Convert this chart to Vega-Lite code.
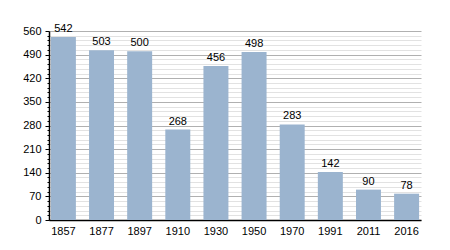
{
  "$schema": "https://vega.github.io/schema/vega-lite/v6.json",
  "autosize": {"type": "none"},
  "padding": {"left": 49, "top": 31, "right": 29, "bottom": 30},
  "width": 372,
  "height": 189,
  "background": "white",
  "config": {
    "view": {"stroke": null},
    "font": "Liberation Sans",
    "axis": {"labelFont": "Liberation Sans", "labelFontSize": 11, "labelColor": "#000", "domainColor": "#000", "tickColor": "#000", "title": null}
  },
  "data": {"values": [
    {"year": "1857", "pop": 542},
    {"year": "1877", "pop": 503},
    {"year": "1897", "pop": 500},
    {"year": "1910", "pop": 268},
    {"year": "1930", "pop": 456},
    {"year": "1950", "pop": 498},
    {"year": "1970", "pop": 283},
    {"year": "1991", "pop": 142},
    {"year": "2011", "pop": 90},
    {"year": "2016", "pop": 78}
  ]},
  "encoding": {
    "x": {"field": "year", "type": "ordinal", "sort": null,
      "scale": {"paddingInner": 0.345, "paddingOuter": 0.05},
      "axis": {"labelAngle": 0, "ticks": false, "labelPadding": 5, "domainWidth": 1.5}}
  },
  "layer": [
    {
      "mark": {"type": "bar", "opacity": 0},
      "encoding": {
        "y": {"field": "pop", "type": "quantitative",
          "scale": {"domain": [0, 560], "nice": false},
          "axis": {"orient": "left", "values": [0,14,28,42,56,84,98,112,126,154,168,182,196,224,238,252,266,294,308,322,336,364,378,392,406,434,448,462,476,504,518,532,546],
            "labels": false, "domain": false, "tickSize": 2, "grid": true, "gridColor": "#e2e2e2", "gridOpacity": 1}}
      }
    },
    {
      "mark": {"type": "bar", "color": "#9bb4cf"},
      "encoding": {
        "y": {"field": "pop", "type": "quantitative",
          "scale": {"domain": [0, 560], "nice": false},
          "axis": {"orient": "left", "values": [0,70,140,210,280,350,420,490,560], "tickSize": 4, "grid": true, "gridColor": "#b0b0b0", "gridOpacity": 1, "labelPadding": 4, "domainWidth": 1.5}}
      }
    },
    {
      "mark": {"type": "text", "baseline": "bottom", "dy": -3, "fontSize": 11, "font": "Liberation Sans", "color": "#000"},
      "encoding": {
        "y": {"field": "pop", "type": "quantitative", "axis": null},
        "text": {"field": "pop", "type": "quantitative"}
      }
    }
  ],
  "resolve": {"axis": {"y": "independent"}}
}
